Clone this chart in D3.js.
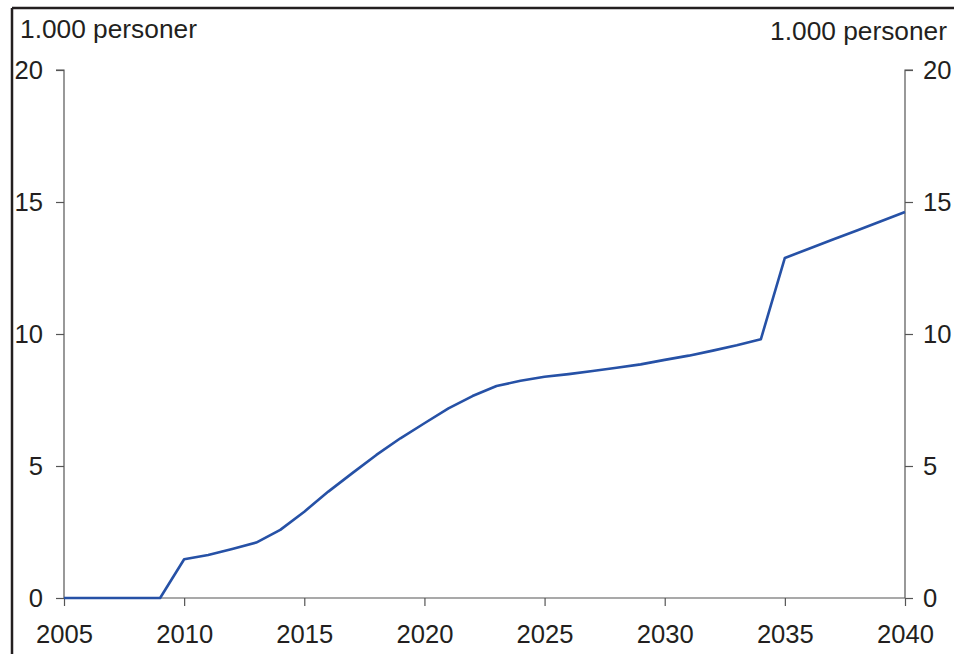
<!DOCTYPE html>
<html><head><meta charset="utf-8">
<script src="https://cdn.jsdelivr.net/npm/d3@7"></script>
<style>body{margin:0;background:#fff}svg{display:block}text{font-family:"Liberation Sans",Arial,sans-serif;fill:#231f20}</style>
</head><body><svg id="c" width="954" height="654"></svg>
<script>
const years = d3.range(2005, 2041);
const values = [0,0,0,0,0,1.47,1.63,1.86,2.1,2.58,3.27,4.03,4.73,5.42,6.05,6.62,7.18,7.65,8.03,8.23,8.38,8.48,8.6,8.72,8.85,9.02,9.18,9.37,9.57,9.8,12.88,13.23,13.58,13.92,14.27,14.62];
const yTicks = [0,5,10,15,20];
const xTicks = [2005,2010,2015,2020,2025,2030,2035,2040];
const unitLabel = "1.000 personer";

const svg = d3.select("#c");
const x = d3.scaleLinear().domain([2005,2040]).range([64,905]);
const y = d3.scaleLinear().domain([0,20]).range([598,70]);
const axisCol = "#555";

// frame
svg.append("line").attr("x1",12).attr("x2",12).attr("y1",8).attr("y2",654).attr("stroke","#231f20").attr("stroke-width",2.5);
svg.append("line").attr("x1",12).attr("x2",954).attr("y1",8).attr("y2",8).attr("stroke","#231f20").attr("stroke-width",2.5);

const fs = 25.6;
const gl = svg.append("g").attr("transform","translate(64,0)")
  .call(d3.axisLeft(y).tickValues(yTicks).tickSize(8).tickPadding(13));
const gr = svg.append("g").attr("transform","translate(905,0)")
  .call(d3.axisRight(y).tickValues(yTicks).tickSize(8).tickPadding(10));
const gb = svg.append("g").attr("transform","translate(0,598)")
  .call(d3.axisBottom(x).tickValues(xTicks).tickFormat(d3.format("d")).tickSize(8).tickPadding(19));
[gl,gr,gb].forEach(g=>{
  g.select(".domain").attr("stroke",axisCol).attr("stroke-width",1.2);
  g.selectAll(".tick line").attr("stroke",axisCol).attr("stroke-width",1.2);
  g.selectAll("text").attr("font-size",fs).attr("fill","#231f20").attr("font-family","Liberation Sans, Arial, sans-serif");
});
gb.select(".domain").attr("d","M64,0H905");
gl.select(".domain").attr("d","M0,598V70H-8");
gr.select(".domain").attr("d","M0,598V70H8");

svg.append("text").attr("x",20).attr("y",38).attr("font-size",26.3).text(unitLabel);
svg.append("text").attr("x",947).attr("y",40).attr("font-size",26.3).attr("text-anchor","end").text(unitLabel);

const line = d3.line().x((d,i)=>x(years[i])).y(d=>y(d));
svg.append("path").datum(values).attr("d",line).attr("fill","none").attr("stroke","#2651a6").attr("stroke-width",2.6).attr("stroke-linejoin","round");
</script></body></html>
